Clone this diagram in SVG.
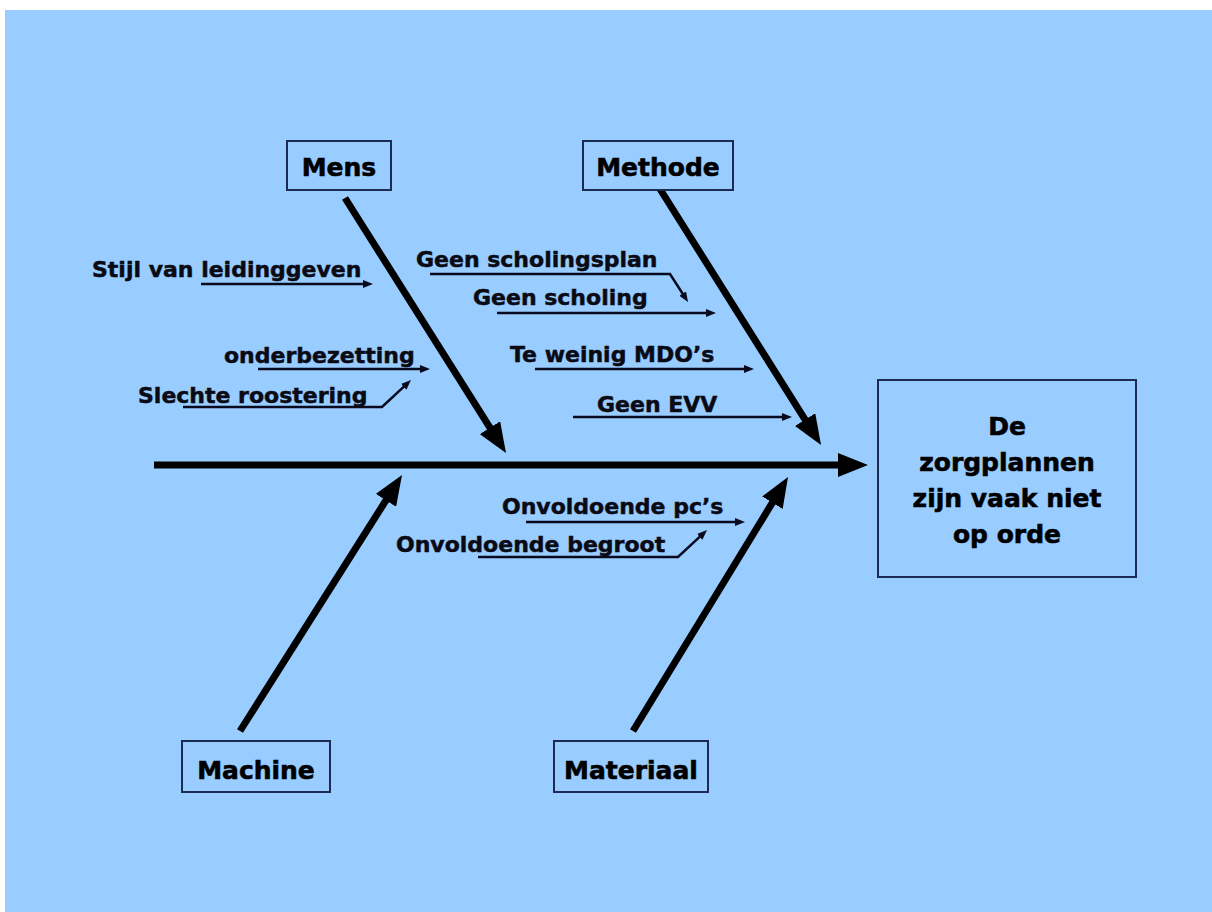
<svg xmlns="http://www.w3.org/2000/svg" width="1212" height="912" viewBox="0 0 1212 912">
<style>
.box{fill:#99ccff;stroke:#1c2b52;stroke-width:2}
.lbl{font-family:"DejaVu Sans",sans-serif;font-weight:bold;font-size:25px;fill:#000;stroke:#000;stroke-width:0.6;text-anchor:middle}
.cause{font-family:"DejaVu Sans",sans-serif;font-weight:bold;font-size:22px;fill:#0a0a14;stroke:#0a0a14;stroke-width:0.5}
.bone{stroke:#000;stroke-width:7;fill:none;marker-end:url(#big)}
.sub{stroke:#0a0a1e;stroke-width:2.5;fill:none;marker-end:url(#small)}
</style>
<defs>
<marker id="big" viewBox="0 0 30 24" refX="10" refY="12" markerWidth="30" markerHeight="24" markerUnits="userSpaceOnUse" orient="auto">
<path d="M0,0 L30,12 L0,24 z" fill="#000"/>
</marker>
<marker id="small" viewBox="0 0 10 8" refX="4" refY="4" markerWidth="10" markerHeight="8" markerUnits="userSpaceOnUse" orient="auto">
<path d="M0,0 L10,4 L0,8 z" fill="#0a0a1e"/>
</marker>
</defs>
<rect x="0" y="0" width="1212" height="912" fill="#ffffff"/>
<rect x="5" y="10" width="1207" height="902" fill="#99ccff"/>

<g id="connectors">
<line class="bone" x1="154" y1="465" x2="848" y2="465"/>
<line class="bone" x1="345" y1="198" x2="495.3" y2="436.1"/>
<line class="bone" x1="660" y1="189" x2="810.4" y2="428.1"/>
<line class="bone" x1="240" y1="731" x2="391.3" y2="491.9"/>
<line class="bone" x1="633" y1="731" x2="777.6" y2="494.1"/>
<line class="sub" x1="201" y1="284" x2="367" y2="284"/>
<line class="sub" x1="258" y1="369" x2="424" y2="369"/>
<polyline class="sub" points="183,407 382,407 406.6,384.1"/>
<polyline class="sub" points="430,274 670,274 684.8,297"/>
<line class="sub" x1="497" y1="313" x2="710" y2="313"/>
<line class="sub" x1="535" y1="369" x2="748" y2="369"/>
<line class="sub" x1="573" y1="417" x2="786" y2="417"/>
<line class="sub" x1="526" y1="522" x2="739" y2="522"/>
<polyline class="sub" points="478,557 678,557 702.6,534.1"/>
</g>

<g id="mens">
<rect class="box" x="287" y="141" width="104" height="49"/>
<text class="lbl" x="339" y="176">Mens</text>
</g>
<g id="methode">
<rect class="box" x="583" y="141" width="150" height="49"/>
<text class="lbl" x="658" y="176">Methode</text>
</g>
<g id="machine">
<rect class="box" x="182" y="741" width="148" height="51"/>
<text class="lbl" x="256" y="779">Machine</text>
</g>
<g id="materiaal">
<rect class="box" x="554" y="741" width="154" height="51"/>
<text class="lbl" x="631" y="779">Materiaal</text>
</g>
<g id="effect">
<rect class="box" x="878" y="380" width="258" height="197"/>
<text class="lbl" x="1007" y="435">De</text>
<text class="lbl" x="1007" y="471">zorgplannen</text>
<text class="lbl" x="1007" y="507">zijn vaak niet</text>
<text class="lbl" x="1007" y="543">op orde</text>
</g>

<g id="causes">
<text class="cause" x="92" y="277">Stijl van leidinggeven</text>
<text class="cause" x="224" y="363">onderbezetting</text>
<text class="cause" x="138" y="403">Slechte roostering</text>
<text class="cause" x="416" y="267">Geen scholingsplan</text>
<text class="cause" x="473" y="305">Geen scholing</text>
<text class="cause" x="510" y="362">Te weinig MDO’s</text>
<text class="cause" x="597" y="412">Geen EVV</text>
<text class="cause" x="502" y="514">Onvoldoende pc’s</text>
<text class="cause" x="396" y="552">Onvoldoende begroot</text>
</g>
</svg>
